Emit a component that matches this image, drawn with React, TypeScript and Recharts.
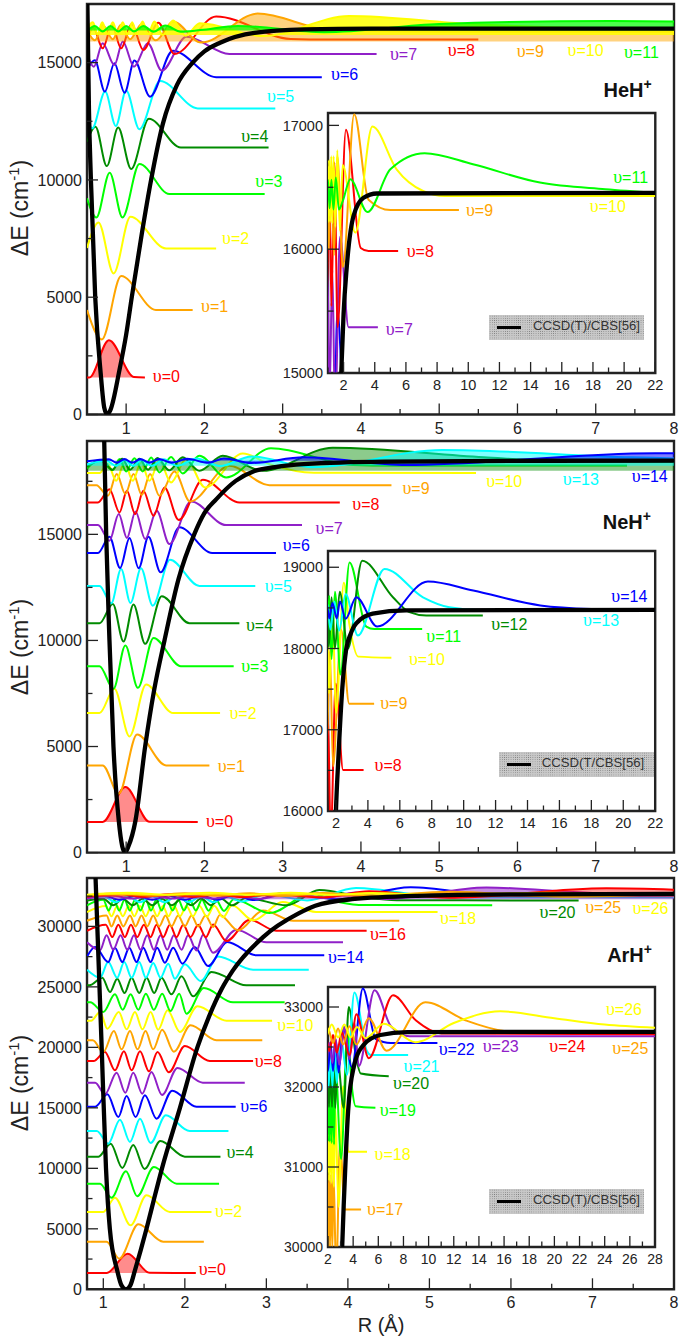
import React from "react";
import { ComposedChart, Line, Area, XAxis, YAxis, ReferenceArea, ReferenceDot } from "recharts";

type Pt = [number, number];

const levelColors = ["#ff0000", "#ffa500", "#ffff00", "#00ff00", "#008b00", "#00ffff", "#0000ff", "#9020c8"];

// ---- HeH+ : potential and vibrational levels, R in Angstrom, E in cm-1
const hePes: Pt[] = [[0.505, 17500], [0.525, 13000], [0.55, 10000], [0.605, 5000], [0.675, 1750], [0.72, 300], [0.757, 0], [0.8, 200], [0.915, 1900], [1.0, 3400], [1.072, 5000], [1.2, 7700], [1.319, 10000], [1.47, 12400], [1.65, 14050], [1.85, 15000], [2.0, 15480], [2.2, 15850], [2.64, 16270], [3.28, 16415], [4.13, 16450], [22, 16455]];
const he0: Pt[] = [[0.5, 1578], [0.53, 1578], [0.78, 3170], [1.1, 1600], [1.24, 1578]];
const he1: Pt[] = [[0.5, 4450], [0.69, 3200], [0.936, 5900], [1.38, 4460], [1.85, 4450]];
const he2: Pt[] = [[0.5, 7100], [0.647, 8190], [0.84, 6015], [1.055, 8430], [1.51, 7080], [2.15, 7080]];
const he3: Pt[] = [[0.5, 9215], [0.62, 8400], [0.79, 10310], [0.953, 8400], [1.17, 10680], [1.553, 9400], [2.77, 9400]];
const he4: Pt[] = [[0.5, 11630], [0.608, 12270], [0.753, 10590], [0.898, 12230], [1.064, 10465], [1.29, 12610], [1.7, 11380], [2.82, 11380]];
const he5: Pt[] = [[0.5, 12770], [0.566, 12200], [0.732, 13765], [0.868, 12300], [1.0, 13810], [1.17, 12160], [1.434, 14220], [1.915, 13050], [2.906, 13050]];
const he6: Pt[] = [[0.5, 14700], [0.6, 15100], [0.728, 13765], [0.85, 14975], [0.98, 13720], [1.106, 15090], [1.306, 13550], [1.596, 15510], [2.15, 14380], [3.5, 14380]];
const he7: Pt[] = [[0.5, 15400], [0.587, 14830], [0.7, 15830], [0.85, 14900], [0.957, 15900], [1.1, 14830], [1.277, 15830], [1.455, 14660], [1.77, 16100], [2.32, 15370], [4.2, 15370]];
const he8: Pt[] = [[0.5, 15900], [0.58, 16500], [0.7, 15610], [0.82, 16600], [0.936, 15610], [1.07, 16650], [1.22, 15540], [1.41, 16700], [1.617, 15370], [2.15, 16965], [3.1, 16010], [3.6, 15985], [5.5, 15985]];
const he9: Pt[] = [[0.5, 16400], [0.6, 15950], [0.7, 16600], [0.83, 16000], [0.93, 16600], [1.05, 16000], [1.2, 16650], [1.38, 15950], [1.6, 16750], [1.957, 15855], [2.68, 17090], [3.6, 16400], [5, 16317], [9.4, 16317]];
const he10: Pt[] = [[0.5, 16450], [0.575, 16720], [0.635, 16230], [0.695, 16720], [0.76, 16230], [0.83, 16720], [0.89, 16230], [0.957, 16720], [1.02, 16220], [1.077, 16720], [1.14, 16220], [1.21, 16750], [1.28, 16210], [1.36, 16750], [1.47, 16180], [1.6, 16800], [1.76, 16150], [1.94, 16680], [2.75, 16134], [3.85, 16990], [5.4, 16645], [7.1, 16470], [8.5, 16430], [22, 16430]];
const he11: Pt[] = [[0.5, 16350], [0.6, 16560], [0.7, 16330], [0.8, 16560], [0.9, 16330], [1.0, 16560], [1.1, 16330], [1.22, 16560], [1.35, 16320], [1.5, 16580], [1.7, 16320], [1.95, 16390], [2.43, 16565], [3.53, 16300], [5, 16645], [7.2, 16775], [10.3, 16686], [14.6, 16538], [18.8, 16484], [22, 16455]];
const heLevels = [he0, he1, he2, he3, he4, he5, he6, he7, he8, he9, he10, he11];
const heInsetLevels = [he6, he7, he8, he9, he10, he11];
const heInsetColors = [6, 7, 0, 1, 2, 3];

// ---- NeH+
const nePes: Pt[] = [[0.72, 19400], [0.745, 15000], [0.787, 10000], [0.838, 5000], [0.906, 1500], [0.95, 300], [0.985, 0], [1.03, 300], [1.119, 1500], [1.243, 5000], [1.36, 7700], [1.49, 10000], [1.67, 12900], [1.87, 15000], [2.0, 16000], [2.15, 16650], [2.4, 17520], [2.64, 17990], [2.9, 18170], [3.27, 18310], [4.3, 18430], [6.4, 18470], [22, 18475]];
const ne0: Pt[] = [[0.5, 1443], [0.7, 1443], [0.99, 3090], [1.3, 1450], [1.915, 1443]];
const ne1: Pt[] = [[0.5, 4110], [0.7, 4110], [0.906, 2777], [1.14, 5570], [1.51, 4110], [2.064, 4110]];
const ne2: Pt[] = [[0.5, 6574], [0.66, 6574], [0.85, 7720], [1.043, 5476], [1.255, 7923], [1.6, 6574], [2.2, 6574]];
const ne3: Pt[] = [[0.5, 8786], [0.66, 8786], [0.838, 7720], [0.99, 9760], [1.15, 7766], [1.35, 10120], [1.7, 8786], [2.374, 8786]];
const ne4: Pt[] = [[0.5, 10810], [0.66, 10810], [0.83, 11720], [0.966, 9950], [1.094, 11690], [1.243, 9838], [1.455, 12080], [1.81, 10810], [2.447, 10810]];
const ne5: Pt[] = [[0.5, 12568], [0.66, 12568], [0.81, 11750], [0.936, 13370], [1.055, 11770], [1.19, 13400], [1.34, 11640], [1.56, 13800], [1.936, 12568], [2.65, 12568]];
const ne6: Pt[] = [[0.5, 14120], [0.64, 14120], [0.787, 14890], [0.923, 13415], [1.043, 14830], [1.16, 13400], [1.285, 14890], [1.44, 13210], [1.68, 15330], [2.1, 14120], [2.915, 14120]];
const ne7: Pt[] = [[0.5, 15440], [0.64, 15440], [0.787, 14700], [0.906, 15960], [1.01, 14830], [1.12, 16080], [1.243, 14780], [1.39, 16110], [1.553, 14545], [1.83, 16550], [2.277, 15440], [3.247, 15440]];
const ne8: Pt[] = [[0.5, 16505], [0.64, 16505], [0.787, 17130], [0.915, 16035], [1.01, 17055], [1.115, 15955], [1.22, 17055], [1.35, 15880], [1.49, 17210], [1.672, 15675], [1.98, 17570], [2.447, 16505], [3.73, 16505]];
const ne9: Pt[] = [[0.5, 17320], [0.62, 17320], [0.766, 16820], [0.88, 17840], [0.99, 16900], [1.094, 17840], [1.2, 16850], [1.306, 17840], [1.425, 16820], [1.617, 17965], [1.817, 16550], [2.32, 18230], [2.83, 17320], [4.39, 17320]];
const ne10: Pt[] = [[0.5, 17886], [0.66, 17886], [0.766, 18340], [0.872, 17525], [0.98, 18390], [1.085, 17525], [1.19, 18390], [1.298, 17525], [1.425, 18470], [1.574, 17447], [1.766, 18550], [2.01, 17210], [2.49, 18810], [2.83, 18310], [3.4, 17900], [5.47, 17886]];
const ne11: Pt[] = [[0.5, 18100], [0.66, 18500], [0.83, 18030], [0.915, 18546], [1.0, 17965], [1.106, 18590], [1.213, 17965], [1.32, 18620], [1.425, 17920], [1.574, 18650], [1.723, 17870], [1.936, 18700], [2.277, 17680], [2.85, 19060], [3.9, 18270], [4.4, 18240], [7.4, 18240]];
const ne12: Pt[] = [[0.5, 18200], [0.7, 18500], [0.82, 18050], [0.95, 18560], [1.05, 18050], [1.17, 18560], [1.28, 18050], [1.4, 18600], [1.55, 18020], [1.723, 18630], [1.936, 18000], [2.234, 18700], [2.745, 17996], [3.64, 19080], [5.57, 18630], [6.6, 18447], [7.66, 18405], [11.2, 18405]];
const ne13: Pt[] = [[0.5, 18300], [0.75, 18480], [0.87, 18230], [0.98, 18520], [1.09, 18230], [1.2, 18520], [1.33, 18230], [1.48, 18540], [1.65, 18230], [1.9, 18580], [2.2, 18220], [2.6, 18670], [3.37, 18160], [5.04, 18980], [7.45, 18630], [9.1, 18508], [11, 18475], [22, 18475]];
const ne14: Pt[] = [[0.5, 18440], [0.78, 18540], [0.88, 18370], [0.98, 18550], [1.08, 18370], [1.18, 18550], [1.3, 18370], [1.42, 18550], [1.58, 18370], [1.78, 18560], [2.05, 18370], [2.25, 18580], [2.6, 18365], [3.27, 18630], [4.58, 18270], [7.76, 18824], [10.6, 18713], [14.8, 18530], [18, 18487], [22, 18475]];
const neLevels = [ne0, ne1, ne2, ne3, ne4, ne5, ne6, ne7, ne8, ne9, ne10, ne11, ne12, ne13, ne14];
const neInsetLevels = [ne8, ne9, ne10, ne11, ne12, ne13, ne14];
const neInsetColors = [0, 1, 2, 3, 4, 5, 6];

// ---- ArH+
const arPes: Pt[] = [[0.905, 34000], [0.98, 20000], [1.033, 10000], [1.08, 5000], [1.17, 1570], [1.225, 300], [1.278, 0], [1.33, 300], [1.388, 1570], [1.53, 5000], [1.62, 7400], [1.72, 10000], [1.94, 15000], [2.154, 20000], [2.3, 22600], [2.45, 24800], [2.59, 26360], [2.96, 29120], [3.39, 31050], [3.6, 31700], [4.05, 32250], [4.85, 32530], [6.17, 32650], [8.3, 32685], [28, 32690]];
const ar0: Pt[] = [[0.8, 1350], [1.04, 1350], [1.298, 2948], [1.57, 1360], [2.135, 1350]];
const ar1: Pt[] = [[0.8, 3940], [1.04, 3940], [1.196, 2535], [1.43, 5372], [1.735, 3940], [2.233, 3940]];
const ar2: Pt[] = [[0.8, 6392], [1.0, 6392], [1.143, 7576], [1.335, 5290], [1.53, 7770], [1.816, 6392], [2.327, 6392]];
const ar3: Pt[] = [[0.8, 8733], [0.96, 8733], [1.1, 7576], [1.278, 9750], [1.416, 7686], [1.62, 10110], [1.9, 8733], [2.42, 8733]];
const ar4: Pt[] = [[0.8, 10965], [0.94, 10965], [1.09, 12040], [1.233, 10030], [1.367, 11930], [1.506, 9945], [1.7, 12260], [2.0, 10965], [2.437, 10965]];
const ar5: Pt[] = [[0.8, 13086], [0.92, 13086], [1.06, 12040], [1.204, 14020], [1.327, 12180], [1.45, 14100], [1.58, 12090], [1.767, 14380], [2.06, 13086], [2.535, 13086]];
const ar6: Pt[] = [[0.8, 15097], [0.9, 15097], [1.05, 16117], [1.184, 14243], [1.286, 15980], [1.396, 14243], [1.51, 16034], [1.653, 14105], [1.845, 16420], [2.143, 15097], [2.624, 15097]];
const ar7: Pt[] = [[0.8, 17080], [0.9, 17080], [1.02, 16117], [1.163, 17908], [1.27, 16255], [1.367, 17908], [1.478, 16172], [1.59, 17960], [1.72, 16060], [1.91, 18293], [2.22, 17080], [2.735, 17080]];
const ar8: Pt[] = [[0.8, 18870], [0.88, 18870], [1.02, 19615], [1.143, 18100], [1.253, 19670], [1.347, 18100], [1.45, 19670], [1.56, 18018], [1.665, 19615], [1.804, 17935], [2.0, 20110], [2.306, 18870], [2.837, 18870]];
const ar9: Pt[] = [[0.8, 20580], [0.87, 20580], [1.0, 19615], [1.13, 21350], [1.224, 19836], [1.327, 21350], [1.42, 19836], [1.518, 21350], [1.612, 19836], [1.722, 21460], [1.865, 19640], [2.07, 21820], [2.388, 20580], [2.95, 20580]];
const ar10: Pt[] = [[0.8, 22205], [0.85, 22205], [0.96, 22920], [1.05, 21544], [1.19, 22920], [1.286, 21490], [1.388, 22920], [1.48, 21490], [1.58, 22920], [1.673, 21460], [1.788, 23060], [1.94, 21270], [2.155, 23390], [2.51, 22205], [3.07, 22205]];
const ar11: Pt[] = [[0.8, 23720], [0.84, 23720], [1.0, 22920], [1.143, 24380], [1.237, 23110], [1.335, 24380], [1.429, 23110], [1.522, 24440], [1.62, 23110], [1.722, 24440], [1.824, 23000], [1.931, 24440], [2.02, 22785], [2.233, 24905], [2.592, 23720], [3.224, 23720]];
const ar12: Pt[] = [[0.8, 25125], [0.83, 25125], [0.988, 25760], [1.082, 24575], [1.171, 25680], [1.261, 24490], [1.347, 25760], [1.441, 24490], [1.531, 25760], [1.624, 24490], [1.714, 25760], [1.837, 24380], [1.959, 25870], [2.102, 24220], [2.327, 26230], [2.755, 25125], [3.351, 25125]];
const ar13: Pt[] = [[0.8, 26420], [0.96, 25760], [1.06, 27050], [1.17, 25760], [1.257, 27050], [1.347, 25760], [1.44, 27050], [1.522, 25760], [1.612, 26970], [1.702, 25760], [1.796, 26915], [1.878, 25680], [2.0, 26860], [2.196, 25480], [2.408, 27520], [2.837, 26420], [3.52, 26420]];
const ar14: Pt[] = [[0.8, 27500], [0.9, 28295], [1.06, 27050], [1.143, 28240], [1.233, 27050], [1.318, 28240], [1.408, 27050], [1.49, 28240], [1.58, 27050], [1.66, 28240], [1.755, 27000], [1.857, 28240], [1.97, 26915], [2.12, 28295], [2.286, 26720], [2.52, 28710], [2.878, 27605], [3.71, 27605]];
const ar15: Pt[] = [[0.8, 28680], [0.96, 28020], [1.04, 29260], [1.122, 28075], [1.212, 29260], [1.294, 28075], [1.376, 29260], [1.457, 28075], [1.539, 29260], [1.62, 28075], [1.702, 29260], [1.784, 28075], [1.865, 29260], [1.96, 28075], [2.04, 29260], [2.143, 28000], [2.224, 29300], [2.347, 27825], [2.633, 29730], [3.0, 28680], [3.94, 28680]];
const ar16: Pt[] = [[0.8, 29640], [1.03, 30140], [1.11, 29120], [1.184, 30140], [1.265, 29120], [1.339, 30140], [1.416, 29120], [1.498, 30140], [1.58, 29120], [1.653, 30140], [1.735, 29120], [1.816, 30140], [1.898, 29120], [1.98, 30140], [2.07, 29120], [2.163, 30140], [2.257, 29100], [2.347, 30160], [2.51, 28790], [2.796, 30550], [3.12, 29640], [4.23, 29640]];
const ar17: Pt[] = [[0.8, 30470], [1.04, 30910], [1.1, 30000], [1.171, 30910], [1.245, 30000], [1.327, 30910], [1.396, 30000], [1.469, 30910], [1.539, 30000], [1.612, 30910], [1.686, 30000], [1.763, 30910], [1.837, 30000], [1.918, 30910], [2.0, 30000], [2.082, 30910], [2.163, 30000], [2.253, 30910], [2.347, 29950], [2.429, 30950], [2.653, 29670], [2.96, 31320], [3.33, 30470], [4.63, 30470]];
const ar18: Pt[] = [[0.8, 31180], [1.03, 31680], [1.1, 30830], [1.17, 31680], [1.24, 30830], [1.31, 31680], [1.38, 30830], [1.45, 31680], [1.52, 30830], [1.59, 31680], [1.66, 30830], [1.73, 31680], [1.8, 30830], [1.87, 31680], [1.94, 30830], [2.02, 31680], [2.1, 30830], [2.18, 31680], [2.27, 30800], [2.36, 31700], [2.47, 30750], [2.58, 31750], [2.837, 30500], [3.2, 32010], [3.61, 31190], [5.1, 31190]];
const ar19: Pt[] = [[0.8, 31740], [1.0, 32200], [1.065, 31320], [1.13, 32200], [1.195, 31320], [1.26, 32200], [1.325, 31320], [1.39, 32200], [1.455, 31320], [1.52, 32200], [1.585, 31320], [1.65, 32200], [1.715, 31320], [1.78, 32200], [1.85, 31320], [1.92, 32200], [1.99, 31320], [2.06, 32200], [2.135, 31320], [2.21, 32200], [2.29, 31300], [2.38, 32220], [2.48, 31280], [2.6, 32250], [3.04, 31100], [3.55, 32700], [3.9, 32000], [4.2, 31760], [5.77, 31740]];
const ar20: Pt[] = [[0.8, 32135], [1.0, 32290], [1.12, 31750], [1.24, 32290], [1.36, 31750], [1.48, 32290], [1.6, 31750], [1.72, 32290], [1.84, 31750], [1.96, 32290], [2.08, 31750], [2.2, 32300], [2.32, 31750], [2.44, 32300], [2.58, 31740], [2.75, 32350], [3.25, 31740], [3.65, 33000], [4.2, 32400], [4.6, 32170], [6.83, 32135]];
const ar21: Pt[] = [[0.8, 32400], [1.0, 32500], [1.15, 32000], [1.3, 32500], [1.45, 32000], [1.6, 32500], [1.75, 32000], [1.9, 32500], [2.05, 32000], [2.2, 32500], [2.35, 32000], [2.5, 32500], [2.7, 32050], [3.0, 32650], [3.5, 32150], [4.1, 33180], [5.1, 32446], [5.4, 32400], [8.37, 32400]];
const ar22: Pt[] = [[0.8, 32350], [1.0, 32560], [1.2, 32200], [1.4, 32560], [1.6, 32200], [1.8, 32560], [2.0, 32200], [2.2, 32560], [2.4, 32200], [2.6, 32600], [2.85, 32180], [3.2, 32750], [3.9, 32250], [4.77, 33230], [5.8, 32600], [7, 32550], [10.7, 32550]];
const ar23: Pt[] = [[0.8, 32300], [1.1, 32550], [1.35, 32300], [1.6, 32550], [1.85, 32300], [2.1, 32550], [2.35, 32300], [2.6, 32600], [2.9, 32280], [3.3, 32750], [3.7, 32350], [4.1, 32800], [4.45, 32260], [5.7, 33210], [7, 32760], [8.5, 32633], [28, 32633]];
const ar24: Pt[] = [[0.8, 32450], [1.2, 32650], [1.5, 32450], [1.8, 32650], [2.1, 32450], [2.4, 32650], [2.7, 32430], [3.1, 32680], [3.7, 32400], [4.26, 32910], [5.24, 32360], [7.17, 33146], [9, 32830], [11, 32670], [28, 32660]];
const ar25: Pt[] = [[0.8, 32550], [1.2, 32730], [1.6, 32550], [2.0, 32730], [2.4, 32550], [2.8, 32730], [3.2, 32530], [3.7, 32760], [4.26, 32530], [5.24, 32860], [6.65, 32454], [9.74, 33058], [13, 32830], [16, 32700], [18, 32680], [28, 32680]];
const ar26: Pt[] = [[0.8, 32620], [1.3, 32780], [1.8, 32620], [2.3, 32780], [2.8, 32620], [3.3, 32780], [3.8, 32620], [4.3, 32750], [5, 32610], [6.43, 32790], [8.95, 32560], [12, 32800], [15.7, 32946], [20, 32860], [24, 32780], [28, 32740]];
const arLevels = [ar0, ar1, ar2, ar3, ar4, ar5, ar6, ar7, ar8, ar9, ar10, ar11, ar12, ar13, ar14, ar15, ar16, ar17, ar18, ar19, ar20, ar21, ar22, ar23, ar24, ar25, ar26];
const arInsetLevels = [ar17, ar18, ar19, ar20, ar21, ar22, ar23, ar24, ar25, ar26];
const arInsetColors = [1, 2, 3, 4, 5, 6, 7, 0, 1, 2];

// tick lists
const mainMinor = [0.5, 1.5, 2.5, 3.5, 4.5, 5.5, 6.5, 7.5];
const mainMajor = [1, 2, 3, 4, 5, 6, 7, 8];
const heYTicks = [0, 2500, 5000, 7500, 10000, 12500, 15000];
const neYTicks = [0, 2500, 5000, 7500, 10000, 12500, 15000, 17500];
const arYTicks = [0, 2500, 5000, 7500, 10000, 12500, 15000, 17500, 20000, 22500, 25000, 27500, 30000, 32500];
const heInsetY = [15000, 15500, 16000, 16500, 17000];
const neInsetY = [16000, 16500, 17000, 17500, 18000, 18500, 19000];
const arInsetY = [30000, 30500, 31000, 31500, 32000, 32500, 33000];
const heInsetX = [1, 2, 3, 4, 5, 6, 7, 8, 9, 10, 11, 12, 13, 14, 15, 16, 17, 18, 19, 20, 21, 22];
const neInsetX = [2, 3, 4, 5, 6, 7, 8, 9, 10, 11, 12, 13, 14, 15, 16, 17, 18, 19, 20, 21, 22];
const arInsetX = [2, 3, 4, 5, 6, 7, 8, 9, 10, 11, 12, 13, 14, 15, 16, 17, 18, 19, 20, 21, 22, 23, 24, 25, 26, 27, 28];

// level labels: [level, R, E]
type Lab = [number, number, number];
const heLabels: Lab[] = [[0, 1.34, 1650], [1, 1.957, 4620], [2, 2.225, 7510], [3, 2.65, 9950], [4, 2.47, 11870], [5, 2.8, 13580], [6, 3.617, 14520], [7, 4.37, 15370], [8, 5.11, 15540], [9, 5.99, 15470], [10, 6.64, 15510], [11, 7.36, 15440]];
const heInsetLabels: Lab[] = [[7, 4.7, 15355], [8, 6.05, 15980], [9, 9.85, 16317], [10, 17.8, 16350], [11, 19.3, 16580]];
const neLabels: Lab[] = [[0, 2.02, 1490], [1, 2.17, 4060], [2, 2.32, 6574], [3, 2.47, 8770], [4, 2.53, 10700], [5, 2.77, 12550], [6, 3.0, 14470], [7, 3.42, 15300], [8, 3.89, 16430], [9, 4.53, 17180], [10, 5.6, 17525], [13, 6.58, 17600], [14, 7.46, 17760]];
const neInsetLabels: Lab[] = [[8, 4.42, 16560], [9, 4.77, 17327], [10, 6.57, 17872], [11, 7.66, 18150], [12, 11.73, 18295], [13, 17.48, 18344], [14, 19.25, 18640]];
const arLabels: Lab[] = [[0, 2.17, 1653], [2, 2.37, 6474], [4, 2.51, 11300], [6, 2.68, 15150], [8, 2.857, 18870], [10, 3.135, 21820], [14, 3.755, 27410], [16, 4.27, 29340], [18, 5.13, 30690], [20, 6.35, 31190], [25, 6.91, 31600], [26, 7.49, 31460]];
const arInsetLabels: Lab[] = [[17, 5.1, 30475], [18, 5.7, 31154], [19, 6.12, 31708], [20, 7.17, 32042], [21, 8.0, 32258], [22, 10.8, 32467], [23, 14.3, 32508], [24, 19.6, 32508], [25, 24.6, 32488], [26, 24.1, 32975]];

const rows = (pts: Pt[]) => pts.map(([r, e]) => ({ r, e }));
const SANS = "'Liberation Sans', Arial, sans-serif";
const INK = "#222";

type Fill = { level: number; base: number; opacity: number };

function XTick({ x, y, payload, major, size, dy }: any) {
  const isMajor = major.includes(payload.value);
  return (
    <g>
      <line x1={x} y1={y} x2={x} y2={y - (isMajor ? 11 : 5.5)} stroke={INK} strokeWidth={1.3} />
      {isMajor && (
        <text x={x} y={y + dy} textAnchor="middle" fontSize={size} fill={INK} fontFamily={SANS}>
          {payload.value}
        </text>
      )}
    </g>
  );
}

function YTick({ x, y, payload, major, size }: any) {
  const isMajor = major.includes(payload.value);
  return (
    <g>
      <line x1={x} y1={y} x2={x + (isMajor ? 11 : 5.5)} y2={y} stroke={INK} strokeWidth={1.3} />
      {isMajor && (
        <text x={x - 5} y={y} dy="0.36em" textAnchor="end" fontSize={size} fill={INK} fontFamily={SANS}>
          {payload.value}
        </text>
      )}
    </g>
  );
}

function LevelLabel({ cx, cy, v, color }: any) {
  return (
    <text x={cx} y={cy} dy="0.36em" fontSize={16} fill={color} fontFamily={SANS}>
      <tspan fontFamily="'Liberation Serif', serif" fontSize={18}>υ</tspan>={v}
    </text>
  );
}

function Title({ cx, cy, text }: any) {
  return (
    <text x={cx} y={cy} dy="0.36em" fontSize={20} fontWeight="bold" fill="#111" fontFamily={SANS}>
      {text}
      <tspan dy={-8} fontSize={14}>+</tspan>
    </text>
  );
}

type PanelProps = {
  box: { left: number; top: number; right: number; bottom: number };
  xDomain: [number, number];
  yDomain: [number, number];
  xTicks: number[];
  xMajor: number[];
  yTicks: number[];
  yMajor: number[];
  size: number;
  labelDy: number;
  pes: Pt[];
  levels: Pt[][];
  colorIdx?: number[];
  fills?: Fill[];
  labels: Lab[];
  bg: string;
  title?: { r: number; e: number; text: string };
};

function Panel({ box, xDomain, yDomain, xTicks, xMajor, yTicks, yMajor, size, labelDy, pes, levels, colorIdx, fills, labels, bg, title }: PanelProps) {
  const pad = 6;
  const padRight = 16;
  const yw = 60;
  const xh = 26;
  const w = box.right - box.left + yw + padRight;
  const h = box.bottom - box.top + pad + xh;
  const colorOf = (i: number) => levelColors[(colorIdx ? colorIdx[i] : i) % 8];
  const fillOf = (i: number) => (fills || []).find((f) => f.level === i);
  return (
    <div style={{ position: "absolute", left: box.left - yw, top: box.top - pad, width: w, height: h }}>
      <ComposedChart width={w} height={h} margin={{ top: pad, right: padRight, bottom: 0, left: 0 }}>
        <XAxis dataKey="r" type="number" domain={xDomain} allowDataOverflow ticks={xTicks} interval={0} height={xh} axisLine={false} tickLine={false} tickSize={0} tickMargin={0} tick={(p: any) => <XTick {...p} major={xMajor} size={size} dy={labelDy} />} />
        <YAxis dataKey="e" type="number" domain={yDomain} allowDataOverflow ticks={yTicks} interval={0} width={yw} axisLine={false} tickLine={false} tickSize={0} tickMargin={0} tick={(p: any) => <YTick {...p} major={yMajor} size={size} />} />
        <ReferenceArea x1={xDomain[0]} x2={xDomain[1]} y1={yDomain[0]} y2={yDomain[1]} fill={bg} fillOpacity={1} stroke={INK} strokeWidth={2.4} strokeOpacity={1} ifOverflow="visible" />
        {levels.map((pts, i) => {
          const f = fillOf(i);
          return (
            <Area key={i} data={rows(pts)} dataKey="e" type="monotone" baseValue={f ? f.base : yDomain[0]} stroke={colorOf(i)} strokeWidth={2} fill={f ? colorOf(i) : "none"} fillOpacity={f ? f.opacity : 0} dot={false} activeDot={false} isAnimationActive={false} />
          );
        })}
        <Line data={rows(pes)} dataKey="e" type="monotone" stroke="#000" strokeWidth={4.3} dot={false} activeDot={false} isAnimationActive={false} />
        {labels.map(([v, r, e]) => (
          <ReferenceDot key={v} x={r} y={e} r={0} ifOverflow="visible" shape={(p: any) => <LevelLabel {...p} v={v} color={levelColors[v % 8]} />} />
        ))}
        {title && <ReferenceDot x={title.r} y={title.e} r={0} ifOverflow="visible" shape={(p: any) => <Title {...p} text={title.text} />} />}
      </ComposedChart>
    </div>
  );
}

function LegendBox({ left, top, lineLeft, textLeft, text }: { left: number; top: number; lineLeft: number; textLeft: number; text: string }) {
  return (
    <div style={{ position: "absolute", left, top, width: 155, height: 24.5, backgroundColor: "#c8c8c8", backgroundImage: "radial-gradient(#777 0.6px, transparent 0.7px)", backgroundSize: "2.2px 2.2px" }}>
      <div style={{ position: "absolute", left: lineLeft, top: 10.5, width: 24, height: 3.5, background: "#000" }} />
      <div style={{ position: "absolute", left: textLeft, top: 3, fontSize: 13.2, lineHeight: "16px", color: "#333", whiteSpace: "nowrap", fontFamily: SANS }}>{text}</div>
    </div>
  );
}

function YTitle({ cy }: { cy: number }) {
  return (
    <div style={{ position: "absolute", left: 20, top: cy, transform: "translate(-50%,-50%) rotate(-90deg)", fontSize: 23, color: INK, whiteSpace: "nowrap", fontFamily: SANS }}>
      ΔE (cm<sup style={{ fontSize: 15, lineHeight: 0 }}>-1</sup>)
    </div>
  );
}

export default function App() {
  return (
    <div style={{ position: "absolute", left: 0, top: 0, width: 681, height: 1339, background: "#fff", overflow: "hidden", fontFamily: SANS }}>
      <Panel box={{ left: 87, top: 3.5, right: 674, bottom: 414 }} xDomain={[0.5, 8]} yDomain={[0, 17500]} xTicks={[...mainMinor, ...mainMajor].sort((a, b) => a - b)} xMajor={mainMajor} yTicks={heYTicks} yMajor={[0, 5000, 10000, 15000]} size={16} labelDy={19} pes={hePes} levels={heLevels} bg="#fff"
        fills={[{ level: 0, base: 1578, opacity: 0.45 }, { level: 9, base: 15900, opacity: 0.5 }, { level: 10, base: 16182, opacity: 0.85 }, { level: 11, base: 16367, opacity: 0.7 }]}
        labels={heLabels} title={{ r: 7.1, e: 13860, text: "HeH" }} />
      <Panel box={{ left: 327.7, top: 113, right: 655, bottom: 373 }} xDomain={[1, 22]} yDomain={[15000, 17100]} xTicks={heInsetX} xMajor={[2, 4, 6, 8, 10, 12, 14, 16, 18, 20, 22]} yTicks={heInsetY} yMajor={[15000, 16000, 17000]} size={14.5} labelDy={17} pes={hePes} levels={heInsetLevels} colorIdx={heInsetColors} labels={heInsetLabels} bg="#fff" />
      <LegendBox left={489} top={315} lineLeft={8} textLeft={44} text="CCSD(T)/CBS[56]" />
      <YTitle cy={208} />

      <Panel box={{ left: 87, top: 440.7, right: 674, bottom: 852.3 }} xDomain={[0.5, 8]} yDomain={[0, 19400]} xTicks={[...mainMinor, ...mainMajor].sort((a, b) => a - b)} xMajor={mainMajor} yTicks={neYTicks} yMajor={[0, 5000, 10000, 15000]} size={16} labelDy={19} pes={nePes} levels={neLevels} bg="#fff"
        fills={[{ level: 0, base: 1443, opacity: 0.45 }, { level: 12, base: 17996, opacity: 0.45 }, { level: 13, base: 18230, opacity: 0.5 }, { level: 14, base: 18467, opacity: 0.5 }]}
        labels={neLabels} title={{ r: 7.09, e: 15610, text: "NeH" }} />
      <Panel box={{ left: 328.3, top: 550.7, right: 655.5, bottom: 810.7 }} xDomain={[1.5, 22]} yDomain={[16000, 19200]} xTicks={neInsetX} xMajor={[2, 4, 6, 8, 10, 12, 14, 16, 18, 20, 22]} yTicks={neInsetY} yMajor={[16000, 17000, 18000, 19000]} size={14.5} labelDy={17} pes={nePes} levels={neInsetLevels} colorIdx={neInsetColors} labels={neInsetLabels} bg="#fff" />
      <LegendBox left={498.7} top={752} lineLeft={8} textLeft={43} text="CCSD(T/CBS[56]" />
      <YTitle cy={647} />

      <Panel box={{ left: 87, top: 877.7, right: 674, bottom: 1289 }} xDomain={[0.8, 8]} yDomain={[0, 34000]} xTicks={[...mainMinor.slice(1), ...mainMajor].sort((a, b) => a - b)} xMajor={mainMajor} yTicks={arYTicks} yMajor={[0, 5000, 10000, 15000, 20000, 25000, 30000]} size={16} labelDy={19} pes={arPes} levels={arLevels} bg="#fff"
        fills={[{ level: 0, base: 1350, opacity: 0.45 }, { level: 23, base: 32250, opacity: 0.5 }, { level: 24, base: 32400, opacity: 0.4 }, { level: 25, base: 32500, opacity: 0.5 }, { level: 26, base: 32600, opacity: 0.7 }]}
        labels={arLabels} title={{ r: 7.18, e: 27660, text: "ArH" }} />
      <Panel box={{ left: 328, top: 987.3, right: 655, bottom: 1247.3 }} xDomain={[2, 28]} yDomain={[30000, 33250]} xTicks={arInsetX} xMajor={[2, 4, 6, 8, 10, 12, 14, 16, 18, 20, 22, 24, 26, 28]} yTicks={arInsetY} yMajor={[30000, 31000, 32000, 33000]} size={14} labelDy={17} pes={arPes} levels={arInsetLevels} colorIdx={arInsetColors} labels={arInsetLabels} bg="#fff" />
      <LegendBox left={489} top={1189} lineLeft={8} textLeft={44} text="CCSD(T)/CBS[56]" />
      <YTitle cy={1083} />
      <div style={{ position: "absolute", left: 381, top: 1325, transform: "translate(-50%,-50%)", fontSize: 20, color: INK, whiteSpace: "nowrap" }}>R (Å)</div>
    </div>
  );
}
